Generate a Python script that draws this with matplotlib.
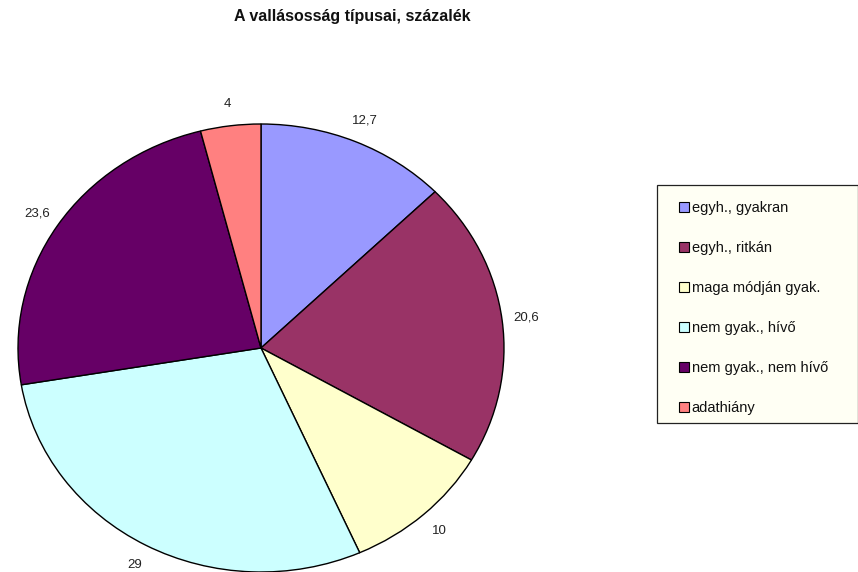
import matplotlib
matplotlib.use("Agg")
import matplotlib.pyplot as plt
from matplotlib.patches import Patch, Rectangle

plt.rcParams['font.family'] = ['Liberation Sans', 'DejaVu Sans']

categories = ["egyh., gyakran", "egyh., ritkán", "maga módján gyak.",
              "nem gyak., hívő", "nem gyak., nem hívő", "adathiány"]
values = [12.7, 20.6, 10, 29, 23.6, 4]
value_labels = ["12,7", "20,6", "10", "29", "23,6", "4"]
colors = ["#9999FF", "#993366", "#FFFFCC", "#CCFFFF", "#660066", "#FF8080"]

W, H = 858, 572
fig = plt.figure(figsize=(W / 100, H / 100), dpi=100)
fig.patch.set_facecolor("white")

# pie axes (elliptical pie as in reference)
x0, x1, ytop, ybot = 18, 504, 124, 572
ax = fig.add_axes([x0 / W, 1 - ybot / H, (x1 - x0) / W, (ybot - ytop) / H])
wedges, texts = ax.pie(values, colors=colors, startangle=90, counterclock=False,
                       labels=value_labels, labeldistance=1.1,
                       wedgeprops=dict(edgecolor="black", linewidth=1.0),
                       textprops=dict(fontsize=9.5, color="#222222"))
for t in texts:
    t.set_ha("center")
    t.set_va("center")
    t.set_clip_on(False)
for w in wedges:
    w.set_clip_on(False)
ax.set_aspect("auto")
ax.set_xlim(-1, 1)
ax.set_ylim(-1, 1)
ax.axis("off")

fig.text(352 / W, 1 - 17 / H, "A vallásosság típusai, százalék",
         ha="center", va="center", fontsize=11.5, fontweight="bold",
         color="#111111")

# legend frame
lx0, ly0, lx1, ly1 = 657, 185, 857.5, 423
fig.patches.append(Rectangle((lx0 / W, 1 - ly1 / H), (lx1 - lx0) / W, (ly1 - ly0) / H,
                             transform=fig.transFigure, facecolor="#FFFFF4",
                             edgecolor="#222222", linewidth=0.9, zorder=0))

handles = [Patch(facecolor=c, edgecolor="black", linewidth=0.8) for c in colors]
leg = fig.legend(handles, categories, loc="upper left",
                 bbox_to_anchor=(679 / W, 1 - 201 / H),
                 borderaxespad=0, borderpad=0, fontsize=10.5,
                 labelspacing=1.78, handlelength=0.68, handleheight=0.68,
                 handletextpad=0.2, frameon=False)
for t in leg.get_texts():
    t.set_color("#111111")

fig.savefig("out.png", dpi=100)
